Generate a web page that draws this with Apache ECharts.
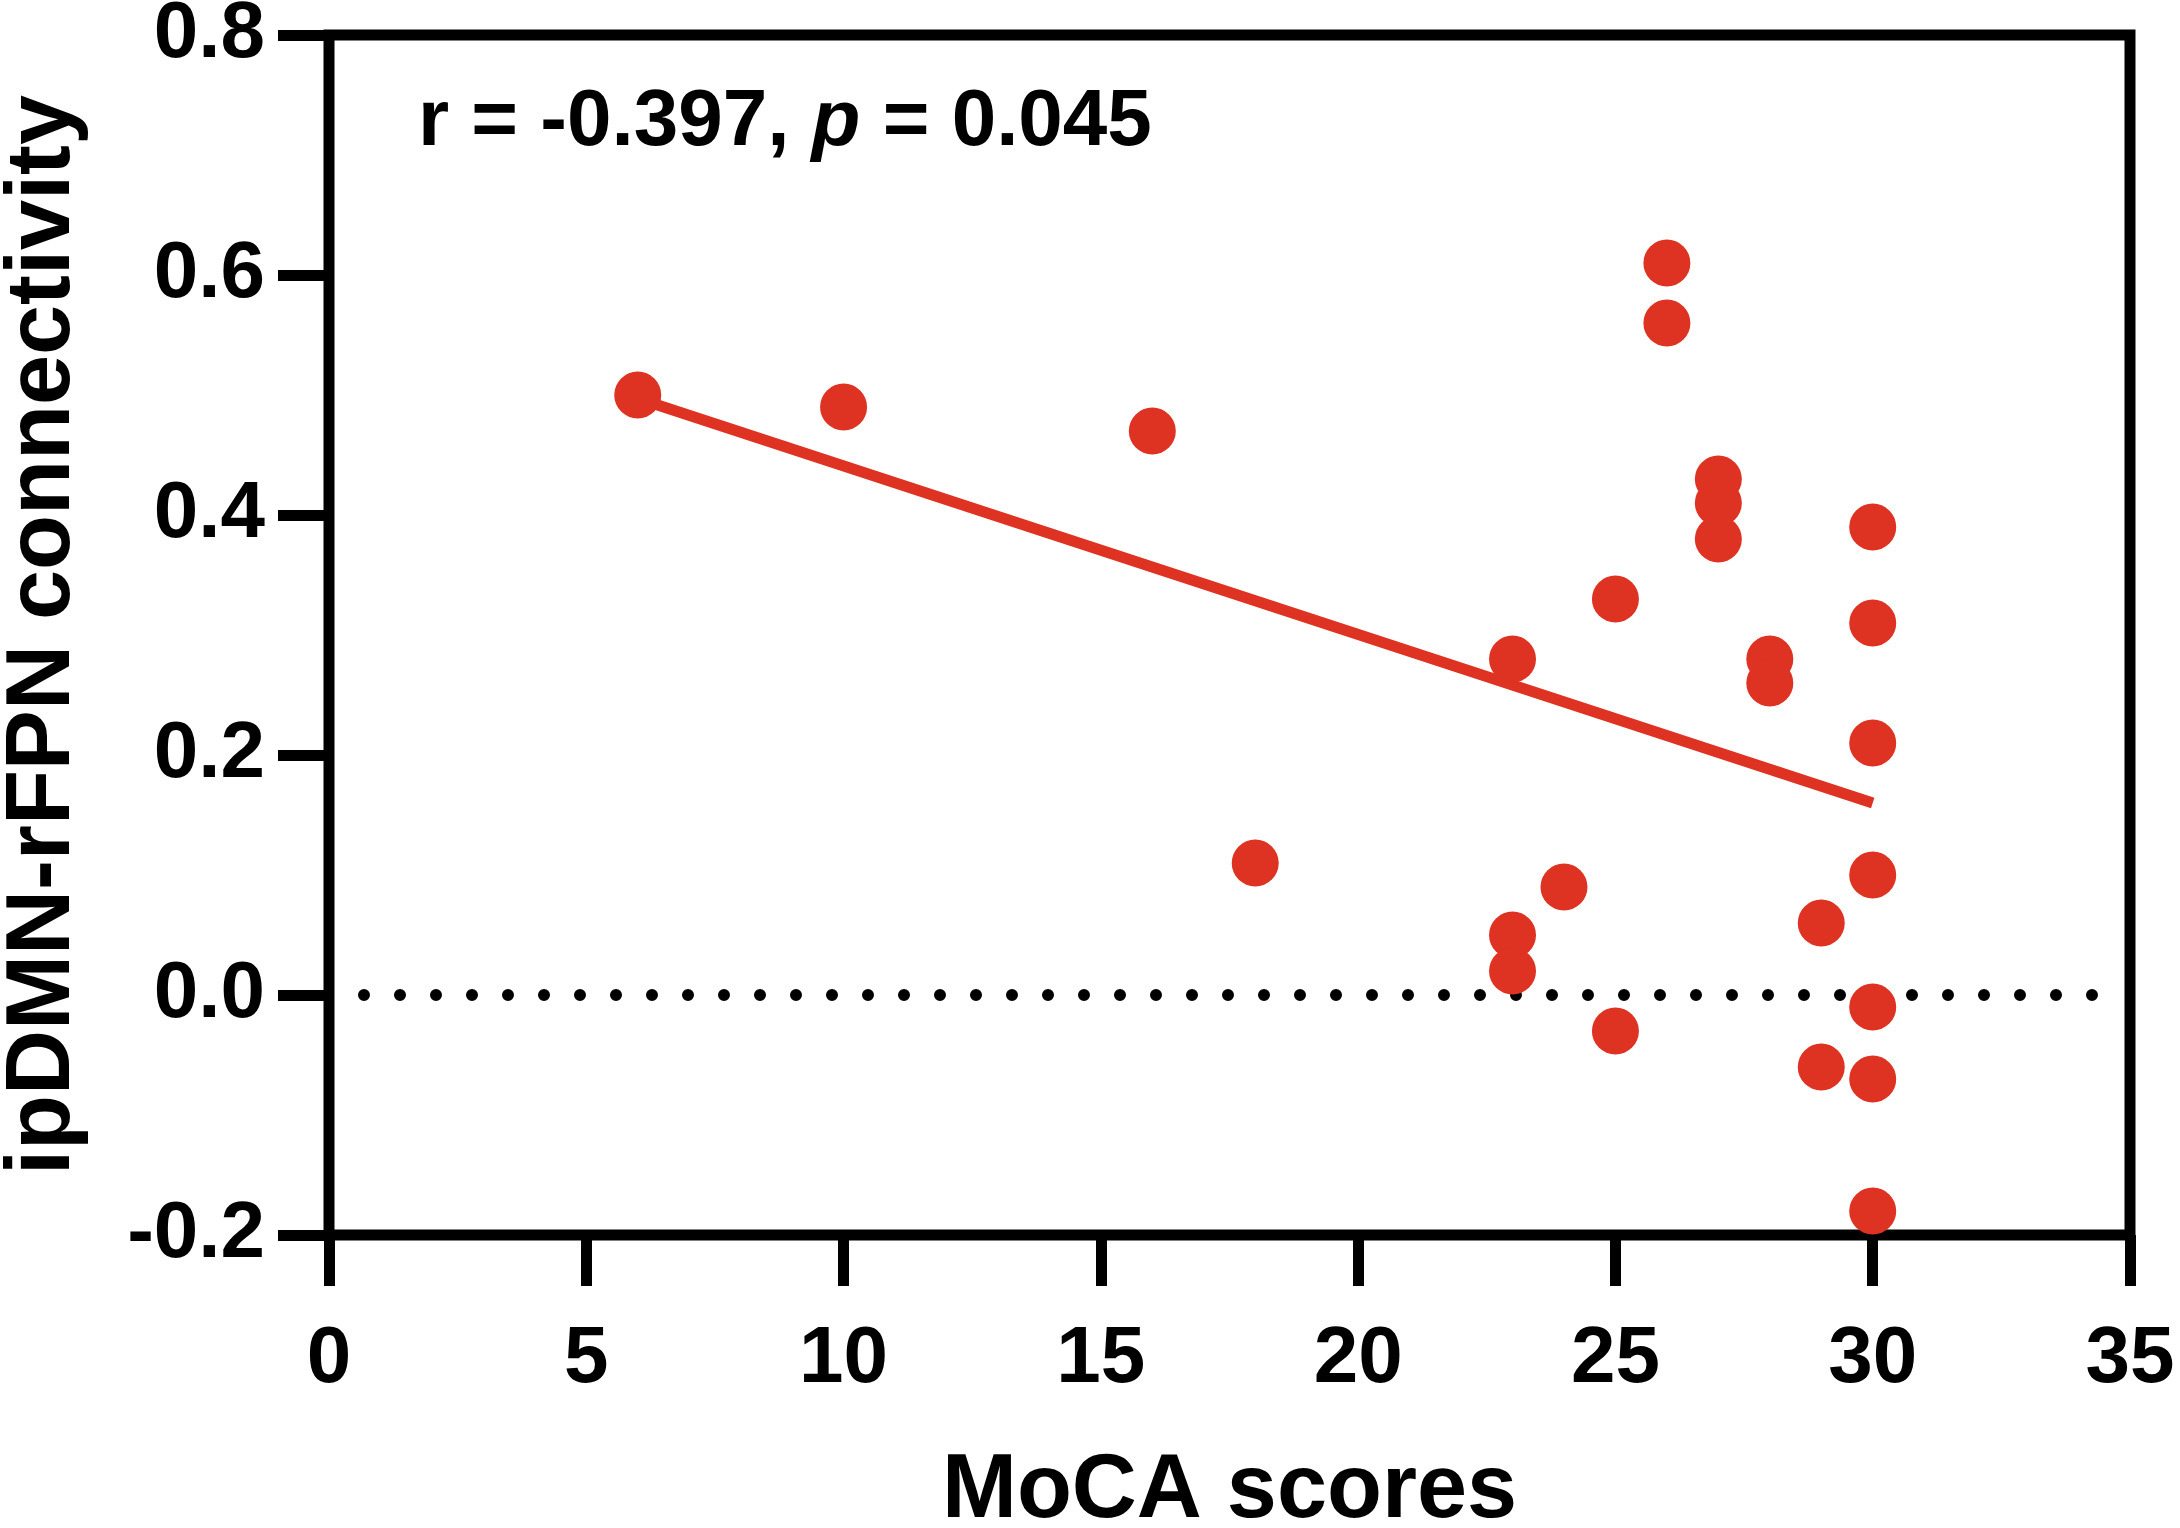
<!DOCTYPE html>
<html>
<head>
<meta charset="utf-8">
<script src="https://cdn.jsdelivr.net/npm/echarts@6/dist/echarts.min.js"></script>
<style>
    html, body { margin: 0; padding: 0; background: #fff; }
    #chart { width: 2180px; height: 1528px; }
</style>
</head>
<body>
<div id="chart"></div>
<script>
// MoCA 分数（x）与 ipDMN-rFPN 连接度（y）
const mocaScores = [6, 10, 16, 18, 23, 23, 23, 24, 25, 25, 26, 26, 27, 27, 27, 28, 28, 29, 29, 30, 30, 30, 30, 30, 30, 30]
const connectivity = [0.50, 0.49, 0.47, 0.11, 0.28, 0.05, 0.02, 0.09, 0.33, -0.03, 0.61, 0.56, 0.43, 0.41, 0.38,
    0.28, 0.26, 0.06, -0.06, 0.39, 0.31, 0.21, 0.10, -0.01, -0.07, -0.18]
// 回归线两端
const fitX = [6, 30]
const fitY = [0.497, 0.160]
// y = 0 的点线范围
const zeroLineX = [0.68, 34.42]
const zeroLineY = [0, 0]
// 坐标轴刻度
const xTicks = [0, 5, 10, 15, 20, 25, 30, 35]
const yTicks = [-0.2, 0.0, 0.2, 0.4, 0.6, 0.8]

const statText = { r: '-0.397', p: '0.045' }

function zip (xs, ys) {
    const out = []
    for (let i = 0; i < xs.length; i++) {
        out.push([xs[i], ys[i]])
    }
    return out
}

const font = 'Liberation Sans'
const red = '#DE3223'

const chart = echarts.init(document.getElementById('chart'))
const option = {
    animation: false,
    backgroundColor: '#fff',
    grid: {
        left: 329,
        right: 50,
        top: 35,
        bottom: 293,
        outerBoundsMode: 'none',
        containLabel: false,
        show: true,
        borderColor: '#000',
        borderWidth: 11
    },
    xAxis: {
        type: 'value',
        min: xTicks[0],
        max: xTicks[xTicks.length - 1],
        interval: xTicks[1] - xTicks[0],
        name: 'MoCA scores',
        nameLocation: 'middle',
        nameGap: 212,
        nameTextStyle: { fontFamily: font, fontWeight: 'bold', fontSize: 90, color: '#000' },
        axisLine: { show: false, onZero: false },
        axisTick: { show: true, inside: false, length: 51, lineStyle: { color: '#000', width: 11 } },
        axisLabel: { margin: 85, fontFamily: font, fontWeight: 'bold', fontSize: 80, color: '#000' },
        splitLine: { show: false }
    },
    yAxis: {
        type: 'value',
        min: yTicks[0],
        max: yTicks[yTicks.length - 1],
        interval: 0.2,
        name: 'ipDMN-rFPN connectivity',
        nameLocation: 'middle',
        nameGap: 240,
        nameTextStyle: { fontFamily: font, fontWeight: 'bold', fontSize: 90, color: '#000' },
        axisLine: { show: false, onZero: false },
        axisTick: { show: true, inside: false, length: 51, lineStyle: { color: '#000', width: 11 } },
        axisLabel: {
            margin: 64,
            fontFamily: font,
            fontWeight: 'bold',
            fontSize: 80,
            color: '#000',
            formatter: (v) => v.toFixed(1)
        },
        splitLine: { show: false }
    },
    graphic: [
        {
            type: 'text',
            left: 418,
            top: 83,
            style: {
                text: '{a|r = ' + statText.r + ', }{b|p}{a| = ' + statText.p + '}',
                rich: {
                    a: { fontFamily: font, fontWeight: 'bold', fontSize: 80, fill: '#000' },
                    b: { fontFamily: font, fontWeight: 'bold', fontStyle: 'italic', fontSize: 80, fill: '#000' }
                }
            }
        }
    ],
    series: [
        {
            // y = 0 点线
            type: 'line',
            data: zip(zeroLineX, zeroLineY),
            symbol: 'none',
            silent: true,
            lineStyle: { color: '#000', width: 12, type: [0.01, 35.99], cap: 'round' },
            z: 1
        },
        {
            // 回归线
            type: 'line',
            data: zip(fitX, fitY),
            symbol: 'none',
            silent: true,
            lineStyle: { color: red, width: 11 },
            z: 2
        },
        {
            type: 'scatter',
            data: zip(mocaScores, connectivity),
            symbol: 'circle',
            symbolSize: 47,
            itemStyle: { color: red, opacity: 1 },
            z: 3
        }
    ]
}
chart.setOption(option)
</script>
</body>
</html>
